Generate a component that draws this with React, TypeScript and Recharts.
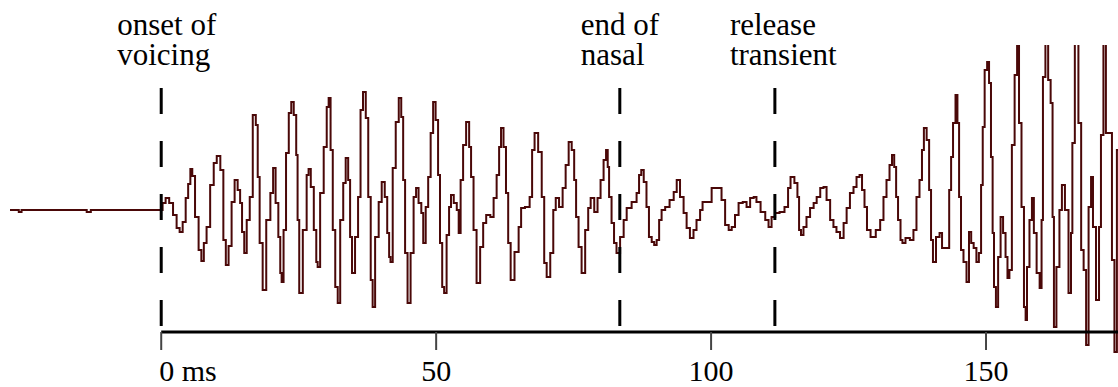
import React from 'react';
import { LineChart, Line, XAxis, YAxis, ReferenceLine } from 'recharts';

// Time of each sample point (ms, 0 = onset of voicing)
const TIME_MS = [
  -27.5, -26.0, -25.8, -25.5, -25.3, -13.6, -13.5, -12.9, -12.7, 0,
  0.5, 1.1, 1.8, 2.5, 3.1, 3.6, 4.2, 4.7, 5.1, 5.5,
  5.8, 6.5, 7.1, 7.5, 8.0, 8.5, 9.3, 9.8, 10.4, 11.1,
  11.5, 12.0, 12.5, 13.1, 13.6, 14.2, 14.5, 14.9, 15.3, 15.8,
  16.4, 16.9, 17.5, 17.6, 18.2, 18.7, 19.5, 20.2, 20.5, 21.1,
  21.5, 21.8, 22.0, 22.5, 22.9, 23.5, 23.8, 24.4, 24.7, 24.9,
  25.3, 26.2, 26.7, 26.9, 27.5, 28.0, 28.4, 28.5, 29.3, 29.8,
  30.4, 30.5, 31.1, 31.3, 32.0, 32.2, 32.9, 33.3, 33.8, 34.2,
  34.5, 34.9, 35.6, 36.0, 36.5, 36.9, 37.5, 37.8, 38.4, 38.5,
  39.3, 39.8, 40.4, 40.9, 41.3, 41.6, 41.8, 42.4, 42.9, 43.5,
  43.8, 44.2, 44.5, 45.1, 45.6, 46.2, 46.5, 47.1, 47.5, 47.8,
  48.4, 48.7, 49.3, 49.6, 50.2, 50.5, 50.9, 51.3, 51.6, 52.2,
  52.5, 52.9, 53.5, 54.0, 54.2, 54.7, 55.1, 55.8, 56.2, 56.5,
  57.1, 57.6, 58.4, 58.7, 59.5, 60.2, 60.7, 61.3, 61.6, 62.0,
  62.5, 62.9, 63.3, 63.8, 64.7, 65.3, 65.6, 66.7, 67.3, 67.6,
  68.2, 68.9, 69.5, 69.8, 70.4, 71.1, 71.5, 72.0, 72.7, 73.3,
  73.8, 74.4, 74.9, 75.3, 75.6, 76.2, 76.7, 77.5, 77.8, 78.4,
  79.1, 79.6, 80.2, 80.7, 81.1, 81.3, 81.6, 82.2, 82.5, 83.1,
  83.8, 84.4, 84.9, 86.2, 86.7, 87.1, 87.5, 88.0, 88.5, 88.9,
  89.5, 89.8, 90.4, 90.7, 91.3, 92.0, 92.9, 93.5, 94.0, 94.7,
  95.3, 95.8, 96.5, 97.1, 97.6, 98.4, 98.5, 99.8, 100.4, 101.6,
  102.2, 102.9, 103.5, 104.0, 104.7, 105.3, 106.2, 106.7, 107.5, 108.0,
  108.5, 109.5, 110.2, 110.7, 111.3, 112.0, 112.9, 113.8, 114.2, 114.7,
  115.6, 115.8, 116.2, 116.5, 117.1, 117.6, 118.4, 118.9, 119.5, 120.2,
  120.7, 121.3, 122.0, 122.5, 123.1, 123.8, 124.4, 124.9, 125.6, 126.2,
  126.7, 127.3, 127.6, 128.2, 128.5, 129.5, 130.4, 131.1, 131.6, 132.2,
  132.7, 133.1, 133.5, 133.8, 134.2, 134.7, 134.9, 135.8, 136.5, 137.1,
  137.6, 138.2, 138.5, 138.9, 139.5, 139.8, 140.2, 140.5, 141.3, 141.8,
  142.2, 143.1, 143.5, 143.8, 144.2, 144.7, 144.9, 145.3, 145.6, 146.2,
  146.7, 147.1, 147.5, 148.0, 148.5, 148.9, 149.3, 149.5, 150.0, 150.4,
  150.7, 151.1, 151.3, 151.6, 152.0, 152.4, 152.9, 153.3, 153.8, 154.0,
  154.5, 154.9, 155.5, 155.8, 156.2, 156.7, 157.1, 157.3, 157.6, 158.2,
  158.5, 158.9, 159.5, 160.0, 160.2, 160.5, 161.1, 161.5, 162.0, 162.2,
  162.5, 163.1, 163.6, 164.0, 164.7, 165.3, 165.6, 165.8, 166.5, 167.1,
  167.5, 168.0, 168.4, 168.9, 169.3, 169.6, 170.4, 170.7, 171.1, 171.6,
  172.0, 172.7, 173.1, 173.6, 174.0,
];

// Waveform amplitude at each point (arbitrary units, 0 = rest)
const AMPLITUDE = [
  0, 0, -2, -2, 0, 0, -2, -2, 0, 0,
  7, 12, 7, -5, -18, -22, -12, 12, 26, 41,
  34, -7, -40, -51, -33, -17, 25, 47, 54, 40,
  -30, -55, -36, 8, 30, 20, 7, -22, -43, -10,
  13, 95, 85, 33, -33, -80, -10, 17, 42, 7,
  -27, -63, -72, -20, 57, 97, 108, 95, 55, -10,
  -83, -20, 35, 41, 23, -20, -52, -57, 17, 63,
  103, 112, 60, -20, -77, -93, -10, 27, 52, 30,
  -27, -63, -27, 13, 100, 118, 92, 13, -70, -97,
  -27, 8, 28, 13, -23, -47, -52, 42, 88, 112,
  93, 30, -43, -93, -43, 13, 22, 7, -3, -33,
  3, 33, 77, 108, 90, 35, -33, -77, -83, -25,
  3, 15, 7, 0, -23, 30, 65, 88, 63, 33,
  -20, -73, -37, -13, -5, -7, 12, 35, 63, 82,
  63, 17, -33, -70, -42, -17, 2, 3, 13, 60,
  77, 58, 13, -53, -67, -43, 0, 12, 3, 22,
  45, 68, 60, 30, -7, -37, -63, -20, 2, 12,
  -2, 12, 30, 50, 60, 43, 13, -13, -33, -43,
  -27, -10, 2, 8, 17, 35, 40, 28, 3, -27,
  -32, -35, -30, -10, 0, 3, 10, 18, 30, 13,
  -3, -18, -28, -20, -10, 0, 8, 8, 22, 22,
  10, -15, -20, -17, -5, 7, 8, 3, 12, 13,
  8, -2, -10, -17, -7, -3, -2, 3, 22, 33,
  27, 13, -20, -25, -17, -7, 2, 7, 13, 22,
  23, 10, -10, -17, -22, -28, -13, 2, 17, 23,
  33, 35, 20, 3, -20, -27, -20, -10, 13, 30,
  45, 55, 43, 13, -10, -30, -33, -28, -30, -20,
  13, 30, 60, 82, 70, 20, -30, -52, -27, -23,
  -38, -38, 20, 53, 87, 115, 87, 13, -40, -52,
  -72, -22, -33, -38, -52, -43, 25, 83, 140, 148,
  127, 53, -23, -77, -97, -47, -7, -23, -47, -68,
  -60, 65, 135, 190, 87, 3, -97, -110, -57, -10,
  12, -23, -63, -78, -10, 133, 195, 130, 107, -7,
  -117, -57, 0, 25, 0, -83, -23, 67, 200, 87,
  -40, -60, -135, 3, 33, -17, -90, -17, 75, 200,
  77, 77, -50, -142, 60,
];

const AXIS_TICKS = [0, 50, 100, 150];
const TICK_LABELS = ['0 ms', '50', '100', '150'];

const MARKER_TIMES = [0, 83.4, 111.6];
const MARKER_LABELS = [
  ['onset of', 'voicing'],
  ['end of', 'nasal'],
  ['release', 'transient'],
];

// scale / layout settings
const X_DOMAIN = [-27.5, 174];
const Y_DOMAIN = [-146, 165];
const AXIS_LEVEL = -122;
const TICK_END = -140;
const MARKER_TOP = 122;
const AXIS_END = 174;
const LABEL_SHIFT = [-44, -39, -45];

const SERIF = 'Liberation Serif, DejaVu Serif, Tinos, Times New Roman, Times, serif';
const WAVE = '#4a0808';

const n = Math.min(TIME_MS.length, AMPLITUDE.length);
const data = TIME_MS.slice(0, n).map((t, i) => ({ t, amp: AMPLITUDE[i] }));

function TickLabel(props: any) {
  const { x, y, payload } = props;
  const i = AXIS_TICKS.indexOf(payload.value);
  const first = i === 0;
  return (
    <text
      x={first ? x - 2 : x}
      y={y}
      dy={25}
      textAnchor={first ? 'start' : 'middle'}
      fontFamily={SERIF}
      fontSize={30}
      fill="#000"
    >
      {TICK_LABELS[i]}
    </text>
  );
}

function MarkerLabel(props: any) {
  const { viewBox, lines, shift } = props;
  const x = viewBox.x + shift;
  const y = viewBox.y;
  return (
    <g>
      <text x={x} y={y - 53} fill="#000" fontFamily={SERIF} fontSize={31}>{lines[0]}</text>
      <text x={x} y={y - 23} fill="#000" fontFamily={SERIF} fontSize={31}>{lines[1]}</text>
    </g>
  );
}

export default function App() {
  return (
    <div
      style={{
        position: 'absolute',
        left: 0,
        top: 0,
        width: 1118,
        height: 387,
        background: '#fff',
        fontFamily: SERIF,
      }}
    >
      <LineChart
        width={1118}
        height={387}
        data={data}
        margin={{ top: 45, right: 0, left: 10, bottom: 0 }}
      >
        <XAxis
          type="number"
          dataKey="t"
          domain={X_DOMAIN}
          allowDataOverflow
          ticks={AXIS_TICKS}
          interval={0}
          axisLine={false}
          tickLine={false}
          tickSize={0}
          tickMargin={0}
          height={31}
          tick={<TickLabel />}
        />
        <YAxis hide type="number" domain={Y_DOMAIN} allowDataOverflow />
        <Line
          dataKey="amp"
          type="step"
          stroke={WAVE}
          strokeWidth={2}
          dot={false}
          activeDot={false}
          isAnimationActive={false}
        />
        <ReferenceLine
          segment={[{ x: 0, y: AXIS_LEVEL }, { x: AXIS_END, y: AXIS_LEVEL }]}
          stroke="#000"
          strokeWidth={3}
        />
        {AXIS_TICKS.map((v) => (
          <ReferenceLine
            key={'tick' + v}
            segment={[{ x: v, y: AXIS_LEVEL }, { x: v, y: TICK_END }]}
            stroke="#444"
            strokeWidth={2}
          />
        ))}
        {MARKER_TIMES.map((m, i) => (
          <ReferenceLine
            key={'marker' + i}
            segment={[{ x: m, y: MARKER_TOP }, { x: m, y: AXIS_LEVEL }]}
            stroke="#000"
            strokeWidth={3}
            strokeDasharray="26 27"
            label={<MarkerLabel lines={MARKER_LABELS[i]} shift={LABEL_SHIFT[i]} />}
          />
        ))}
      </LineChart>
    </div>
  );
}
